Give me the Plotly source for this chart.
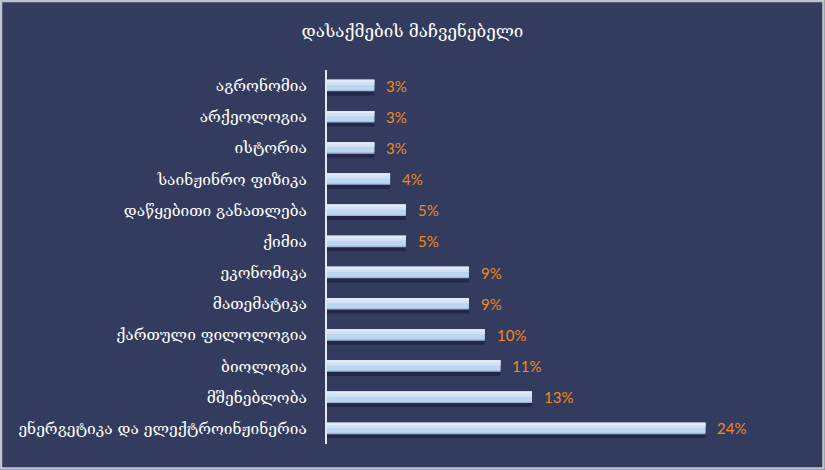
import plotly.graph_objects as go

categories = [
    "აგრონომია",
    "არქეოლოგია",
    "ისტორია",
    "საინჟინრო ფიზიკა",
    "დაწყებითი განათლება",
    "ქიმია",
    "ეკონომიკა",
    "მათემატიკა",
    "ქართული ფილოლოგია",
    "ბიოლოგია",
    "მშენებლობა",
    "ენერგეტიკა და ელექტროინჟინერია",
]
values = [3, 3, 3, 4, 5, 5, 9, 9, 10, 11, 13, 24]
value_labels = [f"{v}%" for v in values]
title_text = "დასაქმების მაჩვენებელი"

BG = "#333C5E"
W, H = 825, 470
ML, MR, MT, MB = 327, 25, 70, 26
BW = 0.37

fig = go.Figure()
# shadow
fig.add_trace(go.Bar(y=categories, x=values, orientation="h", width=BW, offset=-BW / 2 + 0.13,
                     marker=dict(color="#23284A", line=dict(width=0)), hoverinfo="skip"))
# bottom edge
fig.add_trace(go.Bar(y=categories, x=values, orientation="h", width=BW, offset=-BW / 2,
                     marker=dict(color="#A7B6D6", line=dict(width=0)), hoverinfo="skip"))
# main body
fig.add_trace(go.Bar(y=categories, x=values, orientation="h", width=BW * 0.88, offset=-BW / 2,
                     marker=dict(color="#BBD5F2", line=dict(width=0)), hoverinfo="skip"))
# upper lighter band
fig.add_trace(go.Bar(y=categories, x=values, orientation="h", width=BW * 0.45, offset=-BW / 2,
                     marker=dict(color="#D3E1F7", line=dict(width=0)), hoverinfo="skip"))
# top highlight
fig.add_trace(go.Bar(y=categories, x=values, orientation="h", width=BW * 0.2, offset=-BW / 2,
                     marker=dict(color="#E4E9FA", line=dict(width=0)), hoverinfo="skip"))

for c, v, lab in zip(categories, values, value_labels):
    fig.add_annotation(x=v, y=c, text=lab, showarrow=False, xanchor="left", yanchor="middle",
                       xshift=10, yshift=0,
                       font=dict(color="#F0891E", size=15, family="Lato, Open Sans, sans-serif"))

fig.update_layout(
    width=W, height=H,
    barmode="overlay",
    showlegend=False,
    paper_bgcolor=BG, plot_bgcolor=BG,
    margin=dict(l=ML, r=MR, t=MT, b=MB, autoexpand=False),
    title=dict(text=title_text, x=0.5, xref="container", xanchor="center",
               y=1 - 31 / H, yref="container", yanchor="middle",
               font=dict(color="white", size=17, family="DejaVu Serif, serif")),
    xaxis=dict(range=[0, 30], visible=False, fixedrange=True),
    yaxis=dict(autorange="reversed", showline=True, linecolor="#E6E6EE", linewidth=2,
               ticks="", showgrid=False, zeroline=False, ticklabelstandoff=15, automargin=False,
               tickfont=dict(color="white", size=15.5, family="DejaVu Serif, serif")),
)

pw = W - ML - MR
ph = H - MT - MB
fig.add_shape(type="rect", xref="paper", yref="paper",
              x0=(-ML + 1) / pw, x1=(W - ML - 1.5) / pw,
              y0=(-MB + 1.5) / ph, y1=(H - MB - 1) / ph,
              line=dict(color="#BFC3CC", width=2.5), fillcolor="rgba(0,0,0,0)", layer="above")

fig.write_html("out.html", config={"displayModeBar": False},
               post_script="document.body.style.margin='0';document.body.style.overflow='hidden';")
